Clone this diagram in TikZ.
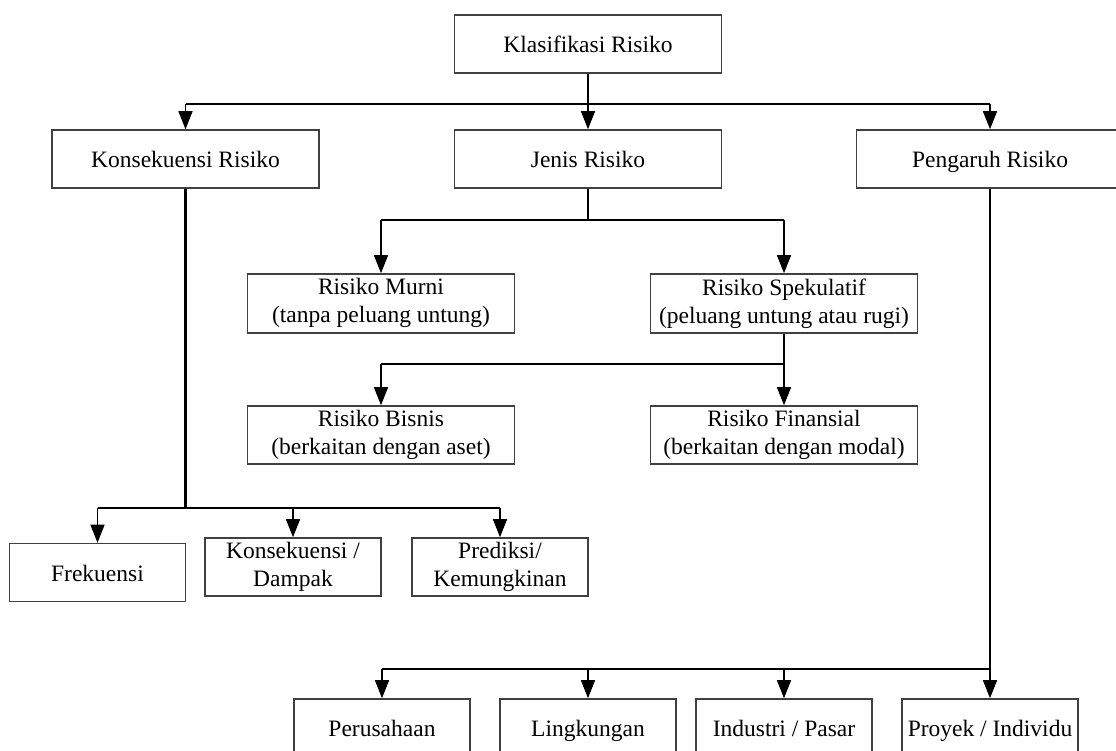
\documentclass[tikz,border=0pt]{standalone}
\usepackage{fontspec}
\setmainfont{Liberation Serif}
\usetikzlibrary{arrows.meta}

\begin{document}
\begin{tikzpicture}[x=1pt,y=-1pt,
	box/.style={draw=black!75, line width=1.6pt, minimum width=267pt, minimum height=58pt, inner sep=0pt, align=center, font=\fontsize{23.5}{28}\selectfont, execute at begin node={\rule{0pt}{22.6pt}}, execute at end node={\rule[-5.5pt]{0pt}{5.5pt}}},
	small/.style={box, minimum width=176pt},
	link/.style={line width=1.5pt},
	bold/.style={line width=2.8pt},
	arrow/.style={-{Triangle[length=18pt,width=14pt]}, line width=1.5pt}]
\useasboundingbox (0,0) rectangle (1116,751);

\node[box] (klas) at (588,44) {Klasifikasi Risiko};
\node[box] (kons) at (185.5,159) {Konsekuensi Risiko};
\node[box] (jenis) at (588,159) {Jenis Risiko};
\node[box] (peng) at (990,159) {Pengaruh Risiko};

\node[box, minimum height=59pt] (murni) at (381,303.5) {Risiko Murni\\(tanpa peluang untung)};
\node[box, minimum height=59pt] (spek) at (784,303.5) {Risiko Spekulatif\\(peluang untung atau rugi)};
\node[box] (bisnis) at (381,435) {Risiko Bisnis\\(berkaitan dengan aset)};
\node[box] (finan) at (784,435) {Risiko Finansial\\(berkaitan dengan modal)};

\node[small] (frek) at (97.5,572.5) {Frekuensi};
\node[small] (damp) at (293,567) {Konsekuensi /\\Dampak};
\node[small] (pred) at (500,567) {Prediksi/\\Kemungkinan};

\node[small] (prsh) at (382,728) {Perusahaan};
\node[small] (ling) at (588,728) {Lingkungan};
\node[small] (indu) at (784,728) {Industri / Pasar};
\node[small] (proy) at (990,728) {Proyek / Individu};

% top level
\draw[bold] (klas.south) -- ++(0,30) coordinate (k1);
\draw[link] (kons.north |- k1) -- (peng.north |- k1);
\draw[arrow] (kons.north |- k1) -- (kons.north);
\draw[arrow] (k1) -- (jenis.north);
\draw[arrow] (peng.north |- k1) -- (peng.north);

% jenis risiko
\draw[link] (jenis.south) -- ++(0,31) coordinate (j1);
\draw[link] (murni.north |- j1) -- (spek.north |- j1);
\draw[arrow] (murni.north |- j1) -- (murni.north);
\draw[arrow] (spek.north |- j1) -- (spek.north);

\draw[arrow] (spek.south) -- (finan.north);
\path (spek.south) ++(0,30) coordinate (s1);
\draw[link] (s1) -- (s1 -| bisnis);
\draw[arrow] (s1 -| bisnis) -- (bisnis.north);

% konsekuensi risiko
\draw[bold] (kons.south) -- ++(0,319) coordinate (c1);
\draw[link] (frek.north |- c1) -- (pred.north |- c1);
\draw[arrow] (frek.north |- c1) -- (frek.north);
\draw[arrow] (damp.north |- c1) -- (damp.north);
\draw[arrow] (pred.north |- c1) -- (pred.north);

% pengaruh risiko
\draw[bold] (peng.south) -- ++(0,480) coordinate (p1);
\draw[link] (prsh.north |- p1) -- (p1);
\draw[arrow] (prsh.north |- p1) -- (prsh.north);
\draw[arrow] (ling.north |- p1) -- (ling.north);
\draw[arrow] (indu.north |- p1) -- (indu.north);
\draw[arrow] (proy.north |- p1) -- (proy.north);
\end{tikzpicture}
\end{document}
